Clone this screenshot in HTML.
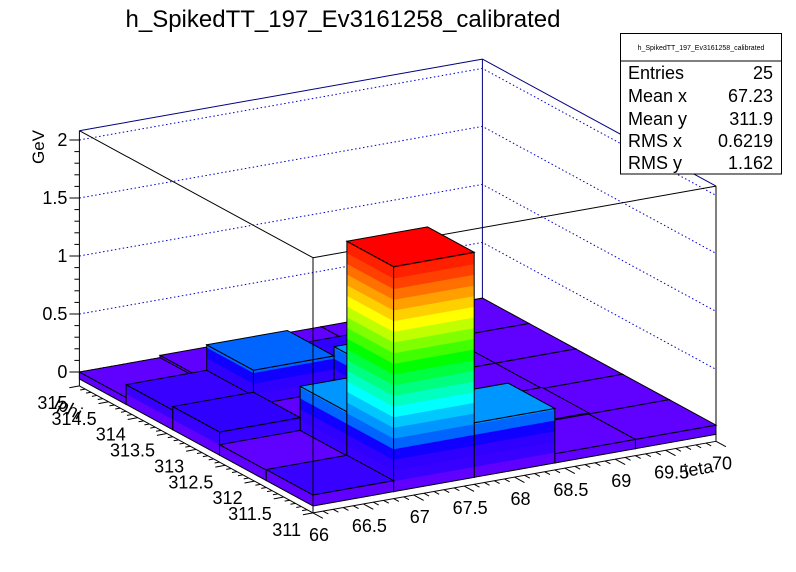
<!DOCTYPE html>
<html><head><meta charset="utf-8"><style>
body{margin:0;background:#fff}
svg{display:block;font-family:"Liberation Sans",sans-serif}
</style></head><body>
<svg id="chart" width="796" height="572" viewBox="0 0 796 572" xmlns="http://www.w3.org/2000/svg">
<rect x="0" y="0" width="796" height="572" fill="#fff"/>
<text x="343" y="27" font-size="24" text-anchor="middle">h_SpikedTT_197_Ev3161258_calibrated</text>
<g id="back"></g>
<g id="bars"></g>
<g id="front"></g>
<g id="axes"></g>
<g>
<rect x="620.5" y="33.5" width="161" height="140.5" fill="#fff" stroke="#000" stroke-width="1"/>
<line x1="620.5" y1="61" x2="781.5" y2="61" stroke="#000"/>
<text x="701" y="50" font-size="7" text-anchor="middle">h_SpikedTT_197_Ev3161258_calibrated</text>
<g font-size="18">
<text x="628" y="79">Entries</text><text x="773" y="79" text-anchor="end">25</text>
<text x="628" y="102">Mean x</text><text x="773" y="102" text-anchor="end">67.23</text>
<text x="628" y="125">Mean y</text><text x="773" y="125" text-anchor="end">311.9</text>
<text x="628" y="147">RMS x</text><text x="773" y="147" text-anchor="end">0.6219</text>
<text x="628" y="169">RMS y</text><text x="773" y="169" text-anchor="end">1.162</text>
</g></g>
</svg>
<script>
// data: bin edges and contents (rows = phi bins front->back, columns = ieta bins)
const xEdges = [66, 66.8, 67.6, 68.4, 69.2, 70];
const yEdges = [311, 311.8, 312.6, 313.4, 314.2, 315];
const row0 = [0.035, 1.88, 0.41, 0.02, 0.02];
const row1 = [0.03, 0.41, 0.03, 0.03, 0.02];
const row2 = [0.14, 0.03, 0.41, 0.02, 0.02];
const row3 = [0.11, 0.33, 0.2, 0.02, 0.02];
const row4 = [0.0, 0.02, 0.02, 0.02, 0.02];
const zTicks = [0, 0.5, 1, 1.5, 2];
const zTickLabels = ["0", "0.5", "1", "1.5", "2"];
const xTickLabels = ["66","66.5","67","67.5","68","68.5","69","69.5","70"];
const yTickLabels = ["311","311.5","312","312.5","313","313.5","314","314.5","315"];
const palette = ["#6000ff","#3800ff","#3000ff","#1000ff","#0064ff","#0096ff","#00c8ff","#00ffff","#00ffc0","#00ff80","#00ff40","#00ff00","#40ff00","#80ff00","#c0ff00","#ffff00","#ffd000","#ffa000","#ff7000","#ff4000","#ff2000","#ff0000"];

const NS = "http://www.w3.org/2000/svg";
const X0 = 66, X1 = 70, Y0 = 311, Y1 = 315, ZMIN = -0.12, ZMAX = 2.08, BASE = -0.06, STEP = 0.092;
function P(x, y, z) {
  return [313 + (x - X0) * 100.75 - (y - Y0) * 58.4, 499 - (x - X0) * 17.9 - (y - Y0) * 31.75 - z * 116];
}
function mk(tag, attrs, parent) {
  const e = document.createElementNS(NS, tag);
  for (const k in attrs) e.setAttribute(k, attrs[k]);
  parent.appendChild(e);
  return e;
}
function pts(arr) { return arr.map(p => p[0].toFixed(2) + "," + p[1].toFixed(2)).join(" "); }
function line(a, b, col, parent, extra) {
  return mk("line", Object.assign({x1: a[0], y1: a[1], x2: b[0], y2: b[1], stroke: col, "stroke-width": 1}, extra || {}), parent);
}
function band(v) { let k = Math.floor((v - BASE) / STEP); return Math.max(0, Math.min(palette.length - 1, k)); }

const back = document.getElementById("back");
const bars = document.getElementById("bars");
const front = document.getElementById("front");
const axes = document.getElementById("axes");
const navy = "#000080";
let e = line(P(X0, Y1, ZMAX), P(X1, Y1, ZMAX), navy, back);


e = line(P(X1, Y1, ZMAX), P(X1, Y0, ZMAX), navy, back);


e = line(P(X1, Y1, ZMIN), P(X1, Y1, ZMAX), navy, back);


zTicks.forEach(z => {
  const a = mk("polyline", {points: pts([P(X0, Y1, z), P(X1, Y1, z), P(X1, Y0, z)]), fill: "none", stroke: "#0000cc", "stroke-width": 1, "stroke-dasharray": "1.5,2.5"}, back);
  
  
});
e = line(P(X0, Y1, ZMAX), P(X0, Y0, ZMAX), "#000", back);


e = line(P(X0, Y0, ZMAX), P(X1, Y0, ZMAX), "#000", back);



const rows = [row0, row1, row2, row3, row4];
const order = [];
for (let j = 0; j < 5; j++) for (let i = 0; i < 5; i++) order.push([i, j]);
order.sort((a, b) => (b[0] + b[1]) - (a[0] + a[1]));
function face(corner, parent, v) {
  const top = band(v);
  const [a, b] = corner;
  for (let k = 0; k <= top; k++) {
    const z0 = BASE + k * STEP;
    const z1 = k === top ? v : Math.min(v, BASE + (k + 1) * STEP);
    if (z1 <= z0) continue;
    mk("polygon", {points: pts([a(z0), b(z0), b(z1), a(z1)]), fill: palette[k], stroke: palette[k], "stroke-width": 0.6}, parent);
  }
  mk("polygon", {points: pts([a(BASE), b(BASE), b(v), a(v)]), fill: "none", stroke: "#000", "stroke-width": 1}, parent);
}
order.forEach(([i, j]) => {
  const v = rows[j][i];
  const xa = xEdges[i], xb = xEdges[i + 1], ya = yEdges[j], yb = yEdges[j + 1];
  const g = mk("g", {}, bars);
  
  
  face([z => P(xa, yb, z), z => P(xa, ya, z)], g, v);
  face([z => P(xa, ya, z), z => P(xb, ya, z)], g, v);
  mk("polygon", {points: pts([P(xa, ya, v), P(xb, ya, v), P(xb, yb, v), P(xa, yb, v)]), fill: palette[band(v)], stroke: "#000", "stroke-width": 1}, g);
});

e = line(P(X0, Y0, ZMIN), P(X0, Y0, ZMAX), "#000", front);


e = line(P(X1, Y0, ZMIN), P(X1, Y0, ZMAX), "#000", front);



e = line(P(X0, Y1, ZMIN), P(X0, Y1, ZMAX), "#000", axes);


for (let t = 0; t <= 20; t++) {
  const z = t * 0.1; if (z > ZMAX) break;
  const p = P(X0, Y1, z), len = t % 5 === 0 ? 10 : 5;
  const tk = line([p[0] - len, p[1]], p, "#000", axes);
  
  
}
zTicks.forEach((z, k) => {
  const p = P(X0, Y1, z);
  const tx = mk("text", {x: p[0] - 12, y: p[1] + 6, "font-size": 18, "text-anchor": "end"}, axes);
  tx.textContent = zTickLabels[k];
  
  
});
const zt = mk("text", {x: 0, y: 0, "font-size": 17, "text-anchor": "end", transform: "translate(44,130) rotate(-90)"}, axes);
zt.textContent = "GeV";



const xa0 = P(X0, Y0, ZMIN), xa1 = P(X1, Y0, ZMIN);
e = line(xa0, xa1, "#000", axes);


for (let t = 0; t <= 40; t++) {
  const x = X0 + t * 0.1, len = t % 5 === 0 ? 0.17 : 0.09;
  const tk = line(P(x, Y0, ZMIN), P(x, Y0 - len, ZMIN), "#000", axes);
  
  
}
xTickLabels.forEach((lab, k) => {
  const p = P(X0 + k * 0.5, Y0, ZMIN);
  const tx = mk("text", {x: p[0] + 6, y: p[1] + 28, "font-size": 18, "text-anchor": "middle"}, axes);
  tx.textContent = lab;
  
  
});
const xt = mk("text", {x: 0, y: 0, "font-size": 18, "text-anchor": "end", transform: "translate(714,472) rotate(-10)"}, axes);
xt.textContent = "ieta";



e = line(P(X0, Y1, ZMIN), P(X0, Y0, ZMIN), "#000", axes);


for (let t = 0; t <= 40; t++) {
  const y = Y0 + t * 0.1, len = t % 5 === 0 ? 0.1 : 0.05;
  const tk = line(P(X0, y, ZMIN), P(X0 - len, y, ZMIN), "#000", axes);
  
  
}
yTickLabels.forEach((lab, k) => {
  const p = P(X0, Y0 + k * 0.5, ZMIN);
  const tx = mk("text", {x: p[0] - 12, y: p[1] + 23, "font-size": 18, "text-anchor": "end"}, axes);
  tx.textContent = lab;
  
  
});
const yt = mk("text", {x: 0, y: 0, "font-size": 18, "text-anchor": "end", transform: "translate(78,420) rotate(28)"}, axes);
yt.textContent = "iphi";


</script>
</body></html>
